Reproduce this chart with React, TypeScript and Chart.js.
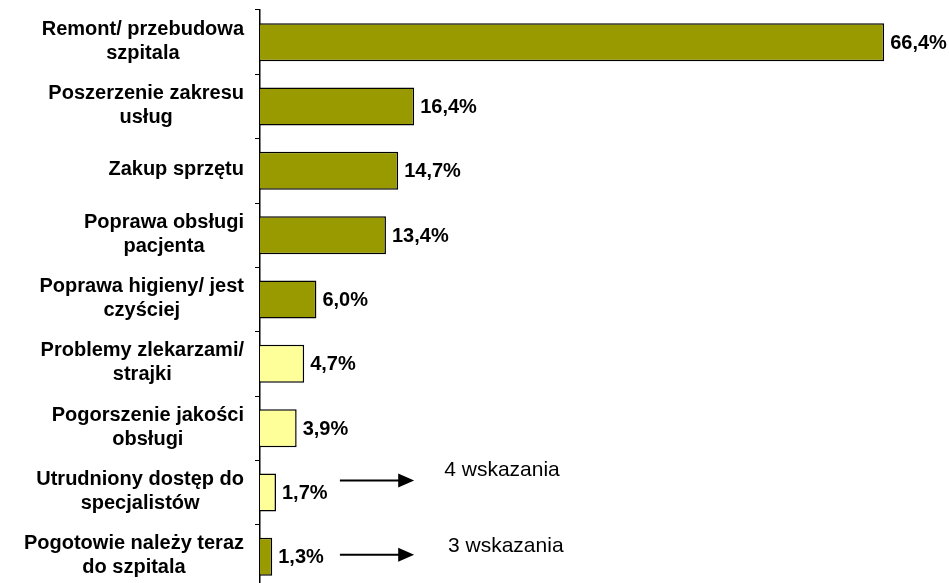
import React, { useEffect, useRef } from "react";
import { Chart, registerables } from "chart.js";

Chart.register(...registerables);

const categories: string[][] = [
  ["Remont/ przebudowa", "szpitala"],
  ["Poszerzenie zakresu", "usług"],
  ["Zakup sprzętu"],
  ["Poprawa obsługi", "pacjenta"],
  ["Poprawa higieny/ jest", "czyściej"],
  ["Problemy zlekarzami/", "strajki"],
  ["Pogorszenie jakości", "obsługi"],
  ["Utrudniony dostęp do", "specjalistów"],
  ["Pogotowie należy teraz", "do szpitala"],
];

const values: number[] = [66.4, 16.4, 14.7, 13.4, 6.0, 4.7, 3.9, 1.7, 1.3];

const valueLabels: string[] = ["66,4%", "16,4%", "14,7%", "13,4%", "6,0%", "4,7%", "3,9%", "1,7%", "1,3%"];

const OLIVE = "#999900";
const PALE = "#FFFF99";
const barColors: string[] = [OLIVE, OLIVE, OLIVE, OLIVE, OLIVE, PALE, PALE, PALE, OLIVE];

const annotationIndex: number[] = [7, 8];
const annotationText: string[] = ["4 wskazania", "3 wskazania"];

const FONT = '"Liberation Sans", Arial, Helvetica, sans-serif';

const labelPlugin = {
  id: "customLabels",
  afterDraw(chart: any) {
    const ctx = chart.ctx as CanvasRenderingContext2D;
    const x = chart.scales.x;
    const y = chart.scales.y;
    ctx.save();
    ctx.fillStyle = "#000";
    // category labels: block right-aligned, lines centered
    ctx.font = `bold 20px ${FONT}`;
    ctx.textBaseline = "middle";
    ctx.textAlign = "center";
    const rightEdge = y.right - 16;
    categories.forEach((lines, i) => {
      const cy = y.getPixelForValue(i);
      const maxW = Math.max(...lines.map((l) => ctx.measureText(l).width));
      const cx = rightEdge - maxW / 2;
      const lh = 24;
      const top = cy - ((lines.length - 1) * lh) / 2;
      lines.forEach((l, j) => ctx.fillText(l, cx, top + j * lh - 1));
    });
    // value labels
    ctx.textAlign = "left";
    const meta = chart.getDatasetMeta(0);
    meta.data.forEach((bar: any, i: number) => {
      ctx.fillText(valueLabels[i], bar.x + 6, bar.y + 1);
    });
    // arrows and annotations
    const yOff = [-12, -2];
    const tOff = [-22, -11];
    const tx = [19.6, 20.0];
    annotationIndex.forEach((idx, k) => {
      const cy = y.getPixelForValue(idx);
      const ay = cy + yOff[k];
      const x0 = x.getPixelForValue(8.5);
      const x1 = x.getPixelForValue(16.4);
      ctx.strokeStyle = "#000";
      ctx.lineWidth = 2;
      ctx.beginPath();
      ctx.moveTo(x0, ay);
      ctx.lineTo(x1 - 12, ay);
      ctx.stroke();
      ctx.beginPath();
      ctx.moveTo(x1, ay);
      ctx.lineTo(x1 - 16, ay - 7);
      ctx.lineTo(x1 - 16, ay + 7);
      ctx.closePath();
      ctx.fill();
      ctx.font = `21px ${FONT}`;
      ctx.textBaseline = "middle";
      ctx.fillText(annotationText[k], x.getPixelForValue(tx[k]), cy + tOff[k]);
    });
    ctx.restore();
  },
};

export default function App() {
  const ref = useRef<HTMLCanvasElement | null>(null);
  useEffect(() => {
    if (!ref.current) return;
    const chart = new Chart(ref.current, {
      type: "bar",
      data: {
        labels: categories,
        datasets: [
          {
            data: values,
            backgroundColor: barColors,
            borderColor: "#000",
            borderWidth: 1.5,
            barPercentage: 0.59,
            categoryPercentage: 1,
          },
        ],
      },
      options: {
        indexAxis: "y",
        responsive: false,
        animation: false,
        devicePixelRatio: 1,
        layout: { padding: { left: 0, top: 10, right: 31, bottom: 11 } },
        plugins: { legend: { display: false }, tooltip: { enabled: false } },
        scales: {
          x: { display: false, min: 0, max: 70 },
          y: {
            ticks: { display: false },
            grid: { drawOnChartArea: false, tickLength: 5, offset: true, color: "#000", lineWidth: 1 },
            border: { color: "#000", width: 1.5 },
            afterFit: (s: any) => {
              s.width = 260;
            },
          },
        },
      },
      plugins: [labelPlugin],
    } as any);
    return () => chart.destroy();
  }, []);
  return (
    <div style={{ position: "fixed", left: 0, top: 0, width: 949, height: 600, background: "#fff" }}>
      <canvas ref={ref} width={949} height={600} style={{ width: 949, height: 600 }} />
    </div>
  );
}
